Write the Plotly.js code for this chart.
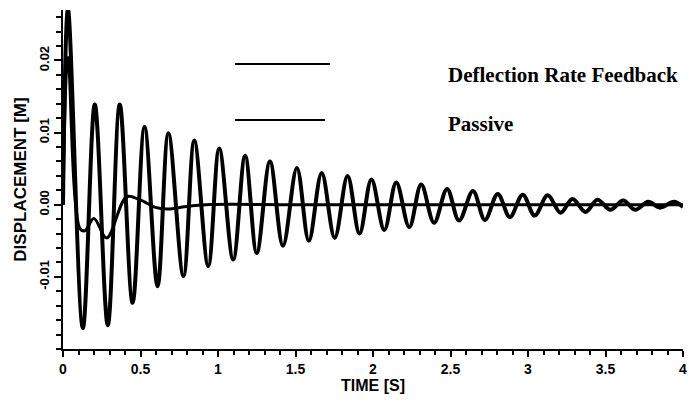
<!DOCTYPE html>
<html>
<head>
<meta charset="utf-8">
<script src="https://cdn.plot.ly/plotly-3.0.1.min.js"></script>
<style>html,body{margin:0;padding:0;background:#fff;}#chart{width:689px;height:405px;}</style>
</head>
<body>
<div id="chart"></div>
<script>
// Passive response: extrema (time s, displacement m)
const passiveT = [0, 0.032, 0.128, 0.205, 0.289, 0.366, 0.449, 0.526, 0.610, 0.680, 0.777, 0.847, 0.937, 1.008, 1.098, 1.175, 1.25, 1.335, 1.419, 1.509, 1.586, 1.669, 1.753, 1.836, 1.913, 1.990, 2.073, 2.150, 2.234, 2.311, 2.394, 2.478, 2.555, 2.645, 2.722, 2.805, 2.883, 2.966, 3.043, 3.127, 3.210, 3.287, 3.371, 3.448, 3.531, 3.614, 3.692, 3.775, 3.852, 3.942, 4.0];
const passiveY = [0, 0.0271, -0.0171, 0.0139, -0.0167, 0.0139, -0.0136, 0.0108, -0.0113, 0.0099, -0.0099, 0.0089, -0.0085, 0.0078, -0.0076, 0.0068, -0.0067, 0.0060, -0.0057, 0.0051, -0.0050, 0.0044, -0.0046, 0.0040, -0.0040, 0.0035, -0.0035, 0.0031, -0.0031, 0.0028, -0.0025, 0.0022, -0.0022, 0.0019, -0.0021, 0.0015, -0.0017, 0.0014, -0.0015, 0.0013, -0.0011, 0.0008, -0.0010, 0.0007, -0.0007, 0.0006, -0.0007, 0.0004, -0.0004, 0.0004, -0.0003];

// Deflection rate feedback response
const feedbackT = [0, 0.032, 0.109, 0.141, 0.199, 0.282, 0.410, 0.494, 0.603, 0.686, 0.770, 0.924, 1.5, 2.5, 3.5, 4.0];
const feedbackY = [0, 0.0204, -0.0033, -0.0036, -0.0019, -0.0046, 0.0011, 0.0007, -0.0004, -0.0006, -0.0003, 0, 0, 0, 0, 0];

const xTickVals = [0, 0.5, 1, 1.5, 2, 2.5, 3, 3.5, 4];
const xTickText = ['0', '0.5', '1', '1.5', '2', '2.5', '3', '3.5', '4'];
const yTickVals = [-0.01, 0, 0.01, 0.02];
const yTickText = ['-0.01', '0.00', '0.01', '0.02'];

const legendNames = ['Deflection Rate Feedback', 'Passive'];

const traces = [
  {x: passiveT, y: passiveY, type: 'scatter', mode: 'lines', name: legendNames[1],
   line: {color: '#000', width: 4, shape: 'spline', smoothing: 1}},
  {x: feedbackT, y: feedbackY, type: 'scatter', mode: 'lines', name: legendNames[0],
   line: {color: '#000', width: 3, shape: 'spline', smoothing: 1}}
];

const layout = {
  width: 689, height: 405,
  margin: {l: 63, r: 6, t: 10, b: 56},
  paper_bgcolor: '#fff', plot_bgcolor: '#fff',
  showlegend: false,
  xaxis: {
    range: [0, 4], showgrid: false, zeroline: false,
    showline: true, linecolor: '#000', linewidth: 2,
    tickmode: 'array', tickvals: xTickVals, ticktext: xTickText,
    ticklabeloverflow: 'allow',
    ticks: 'outside', ticklen: 6, tickwidth: 2, tickcolor: '#000',
    minor: {tickmode: 'linear', tick0: 0, dtick: 0.1, ticks: 'outside', ticklen: 4, tickwidth: 2, tickcolor: '#000', showgrid: false},
    tickfont: {family: 'Liberation Sans, Arial, sans-serif', size: 14, color: '#000', weight: 'bold'},
    title: {text: 'TIME [S]', standoff: 4, font: {family: 'Liberation Sans Narrow, Liberation Sans, Arial, sans-serif', size: 16, color: '#000', weight: 'bold'}},
    fixedrange: true
  },
  yaxis: {
    range: [-0.02, 0.027], showgrid: false, zeroline: false,
    showline: true, linecolor: '#000', linewidth: 2,
    tickmode: 'array', tickvals: yTickVals, ticktext: yTickText,
    tickangle: -90,
    ticks: 'outside', ticklen: 7, tickwidth: 2, tickcolor: '#000',
    minor: {tickmode: 'linear', tick0: 0, dtick: 0.002, ticks: 'outside', ticklen: 5, tickwidth: 2, tickcolor: '#000', showgrid: false},
    tickfont: {family: 'Liberation Sans, Arial, sans-serif', size: 13, color: '#000', weight: 'bold'},
    title: {text: 'DISPLACEMENT [M]', standoff: 6, font: {family: 'Liberation Sans Narrow, Liberation Sans, Arial, sans-serif', size: 17, color: '#000', weight: 'bold'}},
    fixedrange: true
  },
  shapes: [
    {type: 'line', xref: 'paper', yref: 'paper', x0: 0.2774, x1: 0.4306, y0: 0.841, y1: 0.841, line: {color: '#000', width: 2}},
    {type: 'line', xref: 'paper', yref: 'paper', x0: 0.2774, x1: 0.4226, y0: 0.6755, y1: 0.6755, line: {color: '#000', width: 2}}
  ],
  annotations: [
    {xref: 'paper', yref: 'paper', x: 0.6177, y: 0.808, xanchor: 'left', yanchor: 'middle', showarrow: false,
     text: legendNames[0], font: {family: 'Liberation Serif, Times New Roman, serif', size: 21, color: '#000', weight: 'bold'}},
    {xref: 'paper', yref: 'paper', x: 0.6177, y: 0.664, xanchor: 'left', yanchor: 'middle', showarrow: false,
     text: legendNames[1], font: {family: 'Liberation Serif, Times New Roman, serif', size: 21, color: '#000', weight: 'bold'}}
  ]
};

Plotly.newPlot('chart', traces, layout, {displayModeBar: false, staticPlot: true});
</script>
</body>
</html>
